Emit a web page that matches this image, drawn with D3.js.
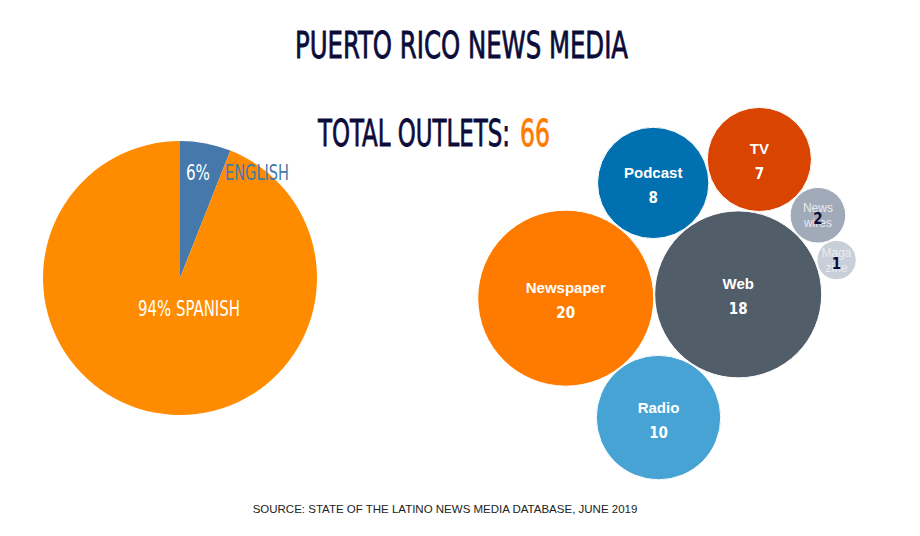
<!DOCTYPE html>
<html lang="en">
<head>
<style>
  body { margin: 0; background: #fff; }
  .cond { font-family: "DejaVu Sans Condensed", "DejaVu Sans", sans-serif; }
</style>
</head>
<body>
<script src="https://d3js.org/d3.v7.min.js"></script>
<script>
  var width = 920, height = 536;

  var languages = ['ENGLISH', 'SPANISH'];
  var shares = [6, 94];
  var langColors = ['#4579ab', '#ff8c00'];

  var mediaTypes = ['Newspaper', 'Web', 'Radio', 'Podcast', 'TV', 'News wires', 'Maga zine'];
  var mediaCounts = [20, 18, 10, 8, 7, 2, 1];
  var mediaColors = ['#ff7b00', '#525d6a', '#46a3d3', '#0070b0', '#d94400', '#a0aab8', '#c9cfd9'];
  // rough placement around the cluster centre (degrees, distance)
  var seedAngle = [180, 0, 95, 265, 300, 325, 345];
  var seedDist = [115, 60, 125, 105, 140, 150, 160];

  var svg = d3.select('body').append('svg').attr('width', width).attr('height', height);

  function heading(x, y, len, txt, color) {
    return svg.append('text').attr('class', 'cond').attr('x', x).attr('y', y)
      .attr('textLength', len).attr('lengthAdjust', 'spacingAndGlyphs')
      .attr('font-size', 38).attr('fill', color)
      .attr('stroke', color).attr('stroke-width', 0.8).text(txt);
  }
  heading(295, 58, 333, 'PUERTO RICO NEWS MEDIA', '#0c0c3a');
  heading(318, 146, 192, 'TOTAL OUTLETS:', '#0c0c3a');
  heading(520, 146, 30, d3.sum(mediaCounts), '#ff7b00');

  // pie
  var pieData = d3.pie().sort(null)(shares);
  var arc = d3.arc().innerRadius(0).outerRadius(137);
  var pg = svg.append('g').attr('transform', 'translate(180,278)');
  pg.selectAll('path').data(pieData).join('path')
    .attr('d', arc).attr('fill', function (d, i) { return langColors[i]; });

  pg.append('text').attr('class', 'cond').attr('x', 6).attr('y', -98)
    .attr('textLength', 24).attr('lengthAdjust', 'spacingAndGlyphs')
    .attr('font-size', 22).attr('fill', '#fff').text(shares[0] + '%');
  pg.append('text').attr('class', 'cond').attr('x', 45).attr('y', -98)
    .attr('textLength', 64).attr('lengthAdjust', 'spacingAndGlyphs')
    .attr('font-size', 22).attr('fill', langColors[0]).text(languages[0]);
  pg.append('text').attr('class', 'cond').attr('x', -42).attr('y', 38)
    .attr('textLength', 102).attr('lengthAdjust', 'spacingAndGlyphs')
    .attr('font-size', 22).attr('fill', '#fff')
    .text(shares[1] + '% ' + languages[1]);

  // bubbles
  var r = d3.scaleSqrt().domain([0, 20]).range([0, 88]);
  var cx = 672, cy = 286;
  var nodes = mediaTypes.map(function (name, i) {
    var a = seedAngle[i] * Math.PI / 180;
    return { name: name, value: mediaCounts[i], color: mediaColors[i], r: r(mediaCounts[i]),
      x: cx + seedDist[i] * Math.cos(a), y: cy + seedDist[i] * Math.sin(a) };
  });
  var sim = d3.forceSimulation(nodes)
    .force('x', d3.forceX(cx).strength(0.02))
    .force('y', d3.forceY(cy).strength(0.02))
    .force('collide', d3.forceCollide().radius(function (d) { return d.r + 0.5; }).iterations(4))
    .stop();
  for (var k = 0; k < 200; k++) sim.tick();

  var bg = svg.selectAll('g.b').data(nodes).join('g').attr('class', 'b')
    .attr('transform', function (d) { return 'translate(' + d.x + ',' + d.y + ')'; });
  bg.append('circle').attr('r', function (d) { return d.r; }).attr('fill', function (d) { return d.color; })
    .attr('stroke', '#fff').attr('stroke-width', 1);
  bg.each(function (d) {
    var g = d3.select(this);
    if (d.r > 40) {
      g.append('text').attr('y', -5).attr('text-anchor', 'middle')
        .attr('font-family', 'Liberation Sans, Arial, sans-serif').attr('font-size', 15).attr('font-weight', 'bold')
        .attr('fill', '#fff').text(d.name);
      g.append('text').attr('class', 'cond').attr('y', 20).attr('text-anchor', 'middle')
        .attr('font-size', 15).attr('font-weight', 'bold').attr('fill', '#fff').text(d.value);
    } else {
      var parts = d.name.split(' ');
      parts.forEach(function (p, j) {
        g.append('text').attr('y', -3 + j * 15).attr('text-anchor', 'middle')
          .attr('font-family', 'Liberation Sans, Arial, sans-serif').attr('font-size', 12)
          .attr('fill', '#e8ebf0').text(p);
      });
      g.append('text').attr('class', 'cond').attr('y', 9).attr('text-anchor', 'middle')
        .attr('font-size', 15).attr('font-weight', 'bold').attr('fill', '#0c0c3a').text(d.value);
    }
  });

  svg.append('text').attr('x', 445).attr('y', 513).attr('text-anchor', 'middle')
    .attr('font-family', 'Liberation Sans, Arial, sans-serif').attr('font-size', 11.5).attr('fill', '#222')
    .text('SOURCE: STATE OF THE LATINO NEWS MEDIA DATABASE, JUNE 2019');
</script>
</body>
</html>
